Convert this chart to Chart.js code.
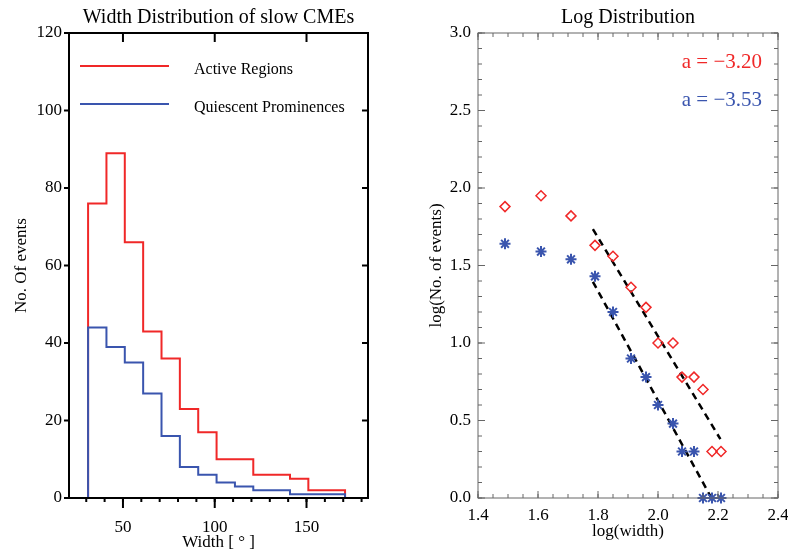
<!DOCTYPE html>
<html lang="en">
<head>
    <meta charset="UTF-8">
    <title>Width Distribution of slow CMEs</title>
    <style>
        body {
            margin: 0;
            background: #fff;
        }
        #wrap {
            position: relative;
            width: 788px;
            height: 551px;
        }
        canvas {
            position: absolute;
            top: 0;
        }
    </style>
</head>
<body>
    <div id="wrap">
        <canvas id="hist-chart" width="394" height="551" style="left:0"></canvas>
        <canvas id="log-chart" width="394" height="551" style="left:394px"></canvas>
    </div>

    <script src="https://cdn.jsdelivr.net/npm/chart.js"></script>
    <script>
        // histogram: bin edges (deg) and counts per bin
        const widthEdges = [31, 41, 51, 61, 71, 81, 91, 101, 111, 121, 131, 141, 151, 161, 171];
        const activeCounts = [76, 89, 66, 43, 36, 23, 17, 10, 10, 6, 6, 5, 2, 2];
        const quiescentCounts = [44, 39, 35, 27, 16, 8, 6, 4, 3, 2, 2, 1, 1, 1];
        const histXTicks = [50, 100, 150];
        const histYTicks = [0, 20, 40, 60, 80, 100, 120];

        // log-log distribution
        const logWidth = [1.49, 1.61, 1.71, 1.79, 1.85, 1.91, 1.96, 2.00, 2.05, 2.08, 2.12, 2.15, 2.18, 2.21];
        const logActive = [1.88, 1.95, 1.82, 1.63, 1.56, 1.36, 1.23, 1.00, 1.00, 0.78, 0.78, 0.70, 0.30, 0.30];
        const logQuiescent = [1.64, 1.59, 1.54, 1.43, 1.20, 0.90, 0.78, 0.60, 0.48, 0.30, 0.30, 0.00, 0.00, 0.00];
        const fitActive = [[1.783, 1.735], [2.208, 0.38]];
        const fitQuiescent = [[1.783, 1.395], [2.178, 0.0]];
        const logXTicks = [1.4, 1.6, 1.8, 2.0, 2.2, 2.4];
        const logYTicks = [0.0, 0.5, 1.0, 1.5, 2.0, 2.5, 3.0];
        const slopeLabels = ['a = \u22123.20', 'a = \u22123.53'];

        const RED = '#f02828';
        const BLUE = '#3a55ae';
        const SERIF = "'Liberation Serif', 'Times New Roman', serif";

        function steps(from, to, step) {
            const out = [];
            for (let v = from; v <= to + 1e-9; v += step) out.push(+v.toFixed(4));
            return out;
        }

        function stepPoints(edges, counts) {
            const pts = [{x: edges[0], y: 0}];
            counts.forEach((c, i) => pts.push({x: edges[i], y: c}));
            pts.push({x: edges[edges.length - 1], y: counts[counts.length - 1]});
            pts.push({x: edges[edges.length - 1], y: 0});
            return pts;
        }

        // box round the plot area plus tick marks, placed with the scales
        const framePlugin = {
            id: 'frame',
            afterDatasetsDraw(chart, args, opts) {
                const {ctx, chartArea: a, scales} = chart;
                ctx.save();
                ctx.strokeStyle = opts.color;
                ctx.lineWidth = opts.width;
                ctx.strokeRect(a.left, a.top, a.right - a.left, a.bottom - a.top);
                (opts.marks || []).forEach(m => {
                    const sc = scales[m.axis];
                    m.values.forEach(v => {
                        const p = sc.getPixelForValue(v);
                        ctx.beginPath();
                        if (m.axis === 'x') {
                            const y0 = m.side === 'bottom' ? a.bottom : a.top;
                            ctx.moveTo(p, y0);
                            ctx.lineTo(p, y0 + m.len);
                        } else {
                            const x0 = m.side === 'left' ? a.left : a.right;
                            ctx.moveTo(x0, p);
                            ctx.lineTo(x0 + m.len, p);
                        }
                        ctx.stroke();
                    });
                });
                ctx.restore();
            }
        };

        // free text inside the plot area (legend, slopes)
        const notesPlugin = {
            id: 'notes',
            afterDraw(chart, args, opts) {
                const {ctx, chartArea: a} = chart;
                ctx.save();
                (opts.items || []).forEach(it => {
                    if (it.line) {
                        ctx.strokeStyle = it.color;
                        ctx.lineWidth = 2;
                        ctx.beginPath();
                        ctx.moveTo(a.left + it.line[0], a.top + it.dy);
                        ctx.lineTo(a.left + it.line[1], a.top + it.dy);
                        ctx.stroke();
                    }
                    if (it.text) {
                        ctx.fillStyle = it.textColor || '#000';
                        ctx.font = it.size + 'px ' + SERIF;
                        ctx.textBaseline = 'middle';
                        if (it.fromRight !== undefined) {
                            ctx.textAlign = 'right';
                            ctx.fillText(it.text, a.right - it.fromRight, a.top + it.ty);
                        } else {
                            ctx.textAlign = 'left';
                            ctx.fillText(it.text, a.left + it.tx, a.top + it.ty);
                        }
                    }
                });
                ctx.restore();
            }
        };

        function fixedTicks(values) {
            return scale => { scale.ticks = values.map(v => ({value: v})); };
        }

        function fitX(h) {
            return s => { s.height = h; s.paddingLeft = 0; s.paddingRight = 0; };
        }

        function fitY(w) {
            return s => { s.width = w; s.paddingTop = 0; s.paddingBottom = 0; };
        }

        const noGrid = {display: false, drawTicks: false};

        new Chart(document.getElementById('hist-chart'), {
            type: 'line',
            data: {
                datasets: [{
                    label: 'Quiescent Prominences',
                    data: stepPoints(widthEdges, quiescentCounts),
                    stepped: 'before',
                    borderColor: BLUE,
                    borderWidth: 2,
                    pointRadius: 0,
                    fill: false
                }, {
                    label: 'Active Regions',
                    data: stepPoints(widthEdges, activeCounts),
                    stepped: 'before',
                    borderColor: RED,
                    borderWidth: 2,
                    pointRadius: 0,
                    fill: false
                }]
            },
            options: {
                responsive: false,
                animation: false,
                layout: {padding: {left: 0, right: 26, top: 0, bottom: 0}},
                plugins: {
                    legend: {display: false},
                    tooltip: {enabled: false},
                    title: {
                        display: true,
                        text: 'Width Distribution of slow CMEs',
                        fullSize: false,
                        color: '#000',
                        font: {family: SERIF, size: 20, weight: 'normal'},
                        padding: {top: 6, bottom: 3}
                    },
                    frame: {
                        color: '#000',
                        width: 2,
                        marks: [
                            {axis: 'x', side: 'bottom', len: 4, values: steps(30, 180, 10)},
                            {axis: 'x', side: 'bottom', len: 10, values: histXTicks},
                            {axis: 'x', side: 'top', len: 9, values: histXTicks},
                            {axis: 'y', side: 'left', len: -5, values: histYTicks},
                            {axis: 'y', side: 'right', len: -6, values: histYTicks}
                        ]
                    },
                    notes: {
                        items: [
                            {line: [11, 100], dy: 33, color: RED, text: 'Active Regions', tx: 125, ty: 37, size: 16},
                            {line: [11, 100], dy: 71, color: BLUE, text: 'Quiescent Prominences', tx: 125, ty: 75, size: 16}
                        ]
                    }
                },
                scales: {
                    x: {
                        type: 'linear',
                        min: 20.6,
                        max: 183.5,
                        afterFit: fitX(53),
                        afterBuildTicks: fixedTicks(histXTicks),
                        grid: noGrid,
                        border: {display: false},
                        ticks: {color: '#000', font: {family: SERIF, size: 17}, padding: 19, maxRotation: 0, autoSkip: false},
                        title: {display: true, text: 'Width [ \u00b0 ]', color: '#000', font: {family: SERIF, size: 17}, padding: {top: 0, bottom: -2}}
                    },
                    y: {
                        min: 0,
                        max: 120,
                        afterFit: fitY(69),
                        afterBuildTicks: fixedTicks(histYTicks),
                        grid: noGrid,
                        border: {display: false},
                        ticks: {color: '#000', font: {family: SERIF, size: 17}, padding: 7},
                        title: {display: true, text: 'No. Of events', color: '#000', font: {family: SERIF, size: 17}, padding: {top: 11, bottom: 0}}
                    }
                }
            },
            plugins: [framePlugin, notesPlugin]
        });

        const toPoints = (xs, ys) => xs.map((x, i) => ({x: x, y: ys[i]}));
        const fitPoints = seg => seg.map(p => ({x: p[0], y: p[1]}));

        new Chart(document.getElementById('log-chart'), {
            type: 'scatter',
            data: {
                datasets: [{
                    label: 'Active Regions',
                    data: toPoints(logWidth, logActive),
                    pointStyle: 'rectRot',
                    pointRadius: 5,
                    borderColor: RED,
                    backgroundColor: 'rgba(0,0,0,0)',
                    pointBorderWidth: 1.5,
                    clip: false
                }, {
                    label: 'Quiescent Prominences',
                    data: toPoints(logWidth, logQuiescent),
                    pointStyle: 'star',
                    pointRadius: 5.5,
                    borderColor: BLUE,
                    pointBorderWidth: 2,
                    clip: false
                }, {
                    label: 'fit AR',
                    data: fitPoints(fitActive),
                    showLine: true,
                    borderColor: '#000',
                    borderWidth: 2.5,
                    borderDash: [7, 5],
                    pointRadius: 0
                }, {
                    label: 'fit QP',
                    data: fitPoints(fitQuiescent),
                    showLine: true,
                    borderColor: '#000',
                    borderWidth: 2.5,
                    borderDash: [7, 5],
                    pointRadius: 0
                }]
            },
            options: {
                responsive: false,
                animation: false,
                layout: {padding: {left: 0, right: 10, top: 0, bottom: 0}},
                plugins: {
                    legend: {display: false},
                    tooltip: {enabled: false},
                    title: {
                        display: true,
                        text: 'Log Distribution',
                        fullSize: false,
                        color: '#000',
                        font: {family: SERIF, size: 20, weight: 'normal'},
                        padding: {top: 6, bottom: 3}
                    },
                    frame: {
                        color: '#666',
                        width: 1,
                        marks: [
                            {axis: 'x', side: 'bottom', len: -4, values: steps(1.4, 2.4, 0.05)},
                            {axis: 'x', side: 'bottom', len: -7, values: logXTicks},
                            {axis: 'x', side: 'top', len: 4, values: steps(1.4, 2.4, 0.05)},
                            {axis: 'x', side: 'top', len: 7, values: logXTicks},
                            {axis: 'y', side: 'left', len: 4, values: steps(0, 3, 0.1)},
                            {axis: 'y', side: 'left', len: 7, values: logYTicks},
                            {axis: 'y', side: 'right', len: -4, values: steps(0, 3, 0.1)},
                            {axis: 'y', side: 'right', len: -7, values: logYTicks}
                        ]
                    },
                    notes: {
                        items: [
                            {text: slopeLabels[0], textColor: RED, fromRight: 16, ty: 29, size: 21},
                            {text: slopeLabels[1], textColor: BLUE, fromRight: 16, ty: 67, size: 21}
                        ]
                    }
                },
                scales: {
                    x: {
                        type: 'linear',
                        min: 1.4,
                        max: 2.4,
                        afterFit: fitX(53),
                        afterBuildTicks: fixedTicks(logXTicks),
                        grid: noGrid,
                        border: {display: false},
                        ticks: {color: '#000', font: {family: SERIF, size: 17}, padding: 7, maxRotation: 0, autoSkip: false,
                            callback: v => v.toFixed(1)},
                        title: {display: true, text: 'log(width)', color: '#000', font: {family: SERIF, size: 17}, padding: {top: 0, bottom: 9}}
                    },
                    y: {
                        min: 0,
                        max: 3,
                        afterFit: fitY(84),
                        afterBuildTicks: fixedTicks(logYTicks),
                        grid: noGrid,
                        border: {display: false},
                        ticks: {color: '#000', font: {family: SERIF, size: 17}, padding: 7, callback: v => v.toFixed(1)},
                        title: {display: true, text: 'log(No. of events)', color: '#000', font: {family: SERIF, size: 17}, padding: {top: 32, bottom: 0}}
                    }
                }
            },
            plugins: [framePlugin, notesPlugin]
        });
    </script>
</body>
</html>
